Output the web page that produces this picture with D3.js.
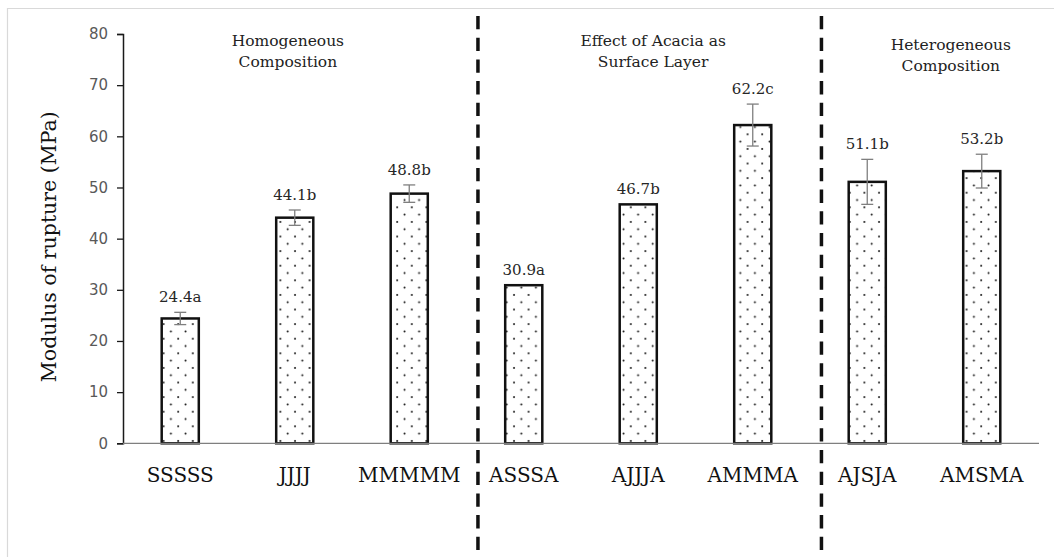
<!DOCTYPE html>
<html>
<head>
<meta charset="utf-8">
<script src="https://cdn.jsdelivr.net/npm/d3@7"></script>
<style>
  body { margin: 0; background: #fff; }
  svg { display: block; }
</style>
</head>
<body>
<svg width="1054" height="557"></svg>
<script>
// data
const categories = ["SSSSS", "JJJJ", "MMMMM", "ASSSA", "AJJJA", "AMMMA", "AJSJA", "AMSMA"];
const values = [24.4, 44.1, 48.8, 30.9, 46.7, 62.2, 51.1, 53.2];
const errors = [1.2, 1.5, 1.7, 0, 0, 4.1, 4.4, 3.3];
const letters = ["a", "b", "b", "a", "b", "c", "b", "b"];
const yTicks = [0, 10, 20, 30, 40, 50, 60, 70, 80];
const groupTitles = [
    ["Homogeneous", "Composition"],
    ["Effect of Acacia as", "Surface Layer"],
    ["Heterogeneous", "Composition"]
];
// separators sit after these categories
const groupEnds = ["MMMMM", "AMMMA"];

const svg = d3.select("svg"),
    width = +svg.attr("width"),
    height = +svg.attr("height");

const serif = "'DejaVu Serif', serif";

const x = d3.scaleBand()
    .domain(categories)
    .range([123, 1039])
    .paddingInner(0.676)
    .paddingOuter(0.338);

const y = d3.scaleLinear()
    .domain([0, 80])
    .range([443.3, 34]);

const cx = d => x(d) + x.bandwidth() / 2;

// light frame (only top and left edges show)
svg.append("path")
    .attr("d", `M7.5,${height} V8.5 H${width}`)
    .attr("fill", "none")
    .attr("stroke", "#d9d9d9")
    .attr("stroke-width", 1.2);

// dotted fill pattern
const pat = svg.append("defs").append("pattern")
    .attr("id", "dots")
    .attr("patternUnits", "userSpaceOnUse")
    .attr("width", 14.6)
    .attr("height", 14.6);
pat.append("rect").attr("width", 14.6).attr("height", 14.6).attr("fill", "#fff");
pat.append("circle").attr("cx", 3).attr("cy", 3).attr("r", 1).attr("fill", "#111");
pat.append("circle").attr("cx", 10.3).attr("cy", 10.3).attr("r", 1).attr("fill", "#111");

// y axis
const yAxis = svg.append("g")
    .attr("transform", `translate(${x.range()[0]},0)`)
    .call(d3.axisLeft(y).tickValues(yTicks).tickSize(6).tickPadding(9));
yAxis.select(".domain").attr("stroke", "#1a1a1a").attr("stroke-width", 1.5);
yAxis.selectAll(".tick line").attr("stroke", "#1a1a1a").attr("stroke-width", 1.3);
yAxis.selectAll(".tick text")
    .attr("fill", "#595959")
    .style("font-family", "'DejaVu Sans', sans-serif")
    .style("font-size", "15px");

// bars
svg.append("g")
    .selectAll("rect")
    .data(categories)
    .enter().append("rect")
    .attr("x", d => x(d))
    .attr("y", (d, i) => y(values[i]))
    .attr("width", x.bandwidth())
    .attr("height", (d, i) => y(0) - y(values[i]))
    .attr("fill", "url(#dots)")
    .attr("stroke", "#111")
    .attr("stroke-width", 2.5);

// baseline
svg.append("line")
    .attr("x1", x.range()[0])
    .attr("x2", x.range()[1])
    .attr("y1", y(0))
    .attr("y2", y(0))
    .attr("stroke", "#7f7f7f")
    .attr("stroke-width", 1.3);

// error bars (none drawn where error is 0)
const errData = categories
    .map((c, i) => ({ c, hi: values[i] + errors[i], lo: values[i] - errors[i], e: errors[i] }))
    .filter(d => d.e > 0);
const eb = svg.append("g")
    .attr("stroke", "#7f7f7f")
    .attr("stroke-width", 1.3)
    .selectAll("g")
    .data(errData)
    .enter().append("g");
eb.append("line")
    .attr("x1", d => cx(d.c))
    .attr("x2", d => cx(d.c))
    .attr("y1", d => y(d.hi))
    .attr("y2", d => y(d.lo));
eb.selectAll("line.cap")
    .data(d => [{ c: d.c, v: d.hi }, { c: d.c, v: d.lo }])
    .enter().append("line")
    .attr("class", "cap")
    .attr("x1", d => cx(d.c) - 6)
    .attr("x2", d => cx(d.c) + 6)
    .attr("y1", d => y(d.v))
    .attr("y2", d => y(d.v));

// value labels
svg.append("g")
    .selectAll("text")
    .data(categories)
    .enter().append("text")
    .attr("x", cx)
    .attr("y", (d, i) => y(values[i] + errors[i]) - 10)
    .attr("text-anchor", "middle")
    .attr("fill", "#262626")
    .style("font-family", serif)
    .style("font-size", "15px")
    .text((d, i) => values[i].toFixed(1) + letters[i]);

// category labels
svg.append("g")
    .selectAll("text")
    .data(categories)
    .enter().append("text")
    .attr("x", cx)
    .attr("y", 482)
    .attr("text-anchor", "middle")
    .attr("fill", "#111")
    .style("font-family", serif)
    .style("font-size", "20px")
    .text(d => d);

// dashed separators, a bit right of the band gap
svg.append("g")
    .selectAll("line")
    .data(groupEnds)
    .enter().append("line")
    .attr("x1", d => cx(d) + 0.6 * x.step())
    .attr("x2", d => cx(d) + 0.6 * x.step())
    .attr("y1", 16)
    .attr("y2", height)
    .attr("stroke", "#111")
    .attr("stroke-width", 3.5)
    .attr("stroke-dasharray", "13.3,8.4");

// group titles, placed by fractional band position
const titlePos = [0.94, 4.13, 6.73];
const titleTop = [46, 46, 50];
groupTitles.forEach((lines, g) => {
    const tx = x.range()[0] + x.step() * (titlePos[g] + 0.5);
    const t = svg.append("text")
        .attr("y", titleTop[g])
        .attr("text-anchor", "middle")
        .attr("fill", "#222")
        .style("font-family", serif)
        .style("font-size", "15.5px");
    lines.forEach((l, k) => {
        t.append("tspan")
            .attr("x", tx)
            .attr("dy", k === 0 ? 0 : 21)
            .text(l);
    });
});

// y axis title
svg.append("text")
    .attr("transform", `translate(56,${(y(0) + y(80)) / 2 + 8}) rotate(-90)`)
    .attr("text-anchor", "middle")
    .attr("fill", "#111")
    .style("font-family", serif)
    .style("font-size", "20.5px")
    .text("Modulus of rupture (MPa)");
</script>
</body>
</html>
